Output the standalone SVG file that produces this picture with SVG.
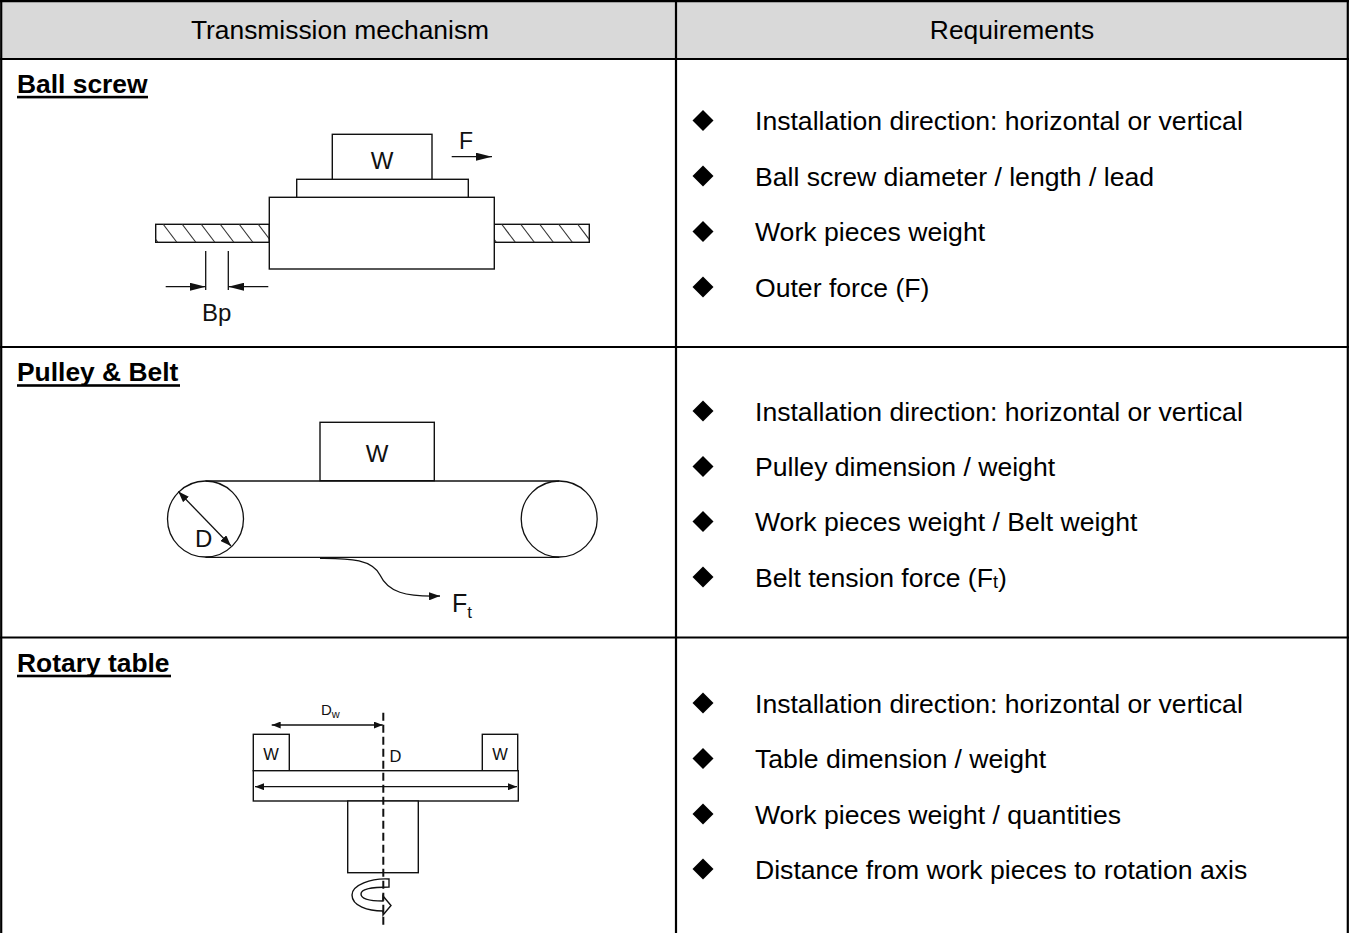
<svg xmlns="http://www.w3.org/2000/svg" width="1349" height="933" viewBox="0 0 1349 933">
<style>
.grid{stroke:#000;stroke-width:2.2;fill:none}
.hdr{font-family:"Liberation Sans",Arial,sans-serif;font-size:26.4px;fill:#000;text-anchor:middle}
.body{font-family:"Liberation Sans",Arial,sans-serif;font-size:26.6px;fill:#000}
.lbl{font-family:"Liberation Sans",Arial,sans-serif;font-size:26.4px;font-weight:bold;fill:#000}
.sk{stroke:#111;stroke-width:1.4;fill:#fff}
.ln{stroke:#111;stroke-width:1.3;fill:none}
.hl{stroke:#333;stroke-width:1.1;fill:none}
.dl{font-family:"Liberation Sans",Arial,sans-serif;fill:#111}
</style>
<defs>
<polygon id="bul" points="0,-10.5 10.5,0 0,10.5 -10.5,0" fill="#000"/>
<marker id="ahBig" viewBox="0 0 16 8" refX="16" refY="4" markerWidth="16" markerHeight="8" markerUnits="userSpaceOnUse" orient="auto-start-reverse"><path d="M0,0 L16,4 L0,8 z" fill="#111"/></marker>
<marker id="ahMid" viewBox="0 0 11 8" refX="11" refY="4" markerWidth="11" markerHeight="8" markerUnits="userSpaceOnUse" orient="auto-start-reverse"><path d="M0,0 L11,4 L0,8 z" fill="#111"/></marker>
<marker id="ahSm" viewBox="0 0 9 7" refX="9" refY="3.5" markerWidth="9" markerHeight="7" markerUnits="userSpaceOnUse" orient="auto-start-reverse"><path d="M0,0 L9,3.5 L0,7 z" fill="#111"/></marker>
<clipPath id="clipL"><rect x="155.7" y="224.3" width="113.6" height="18"/></clipPath>
<clipPath id="clipR"><rect x="494.3" y="224.3" width="95" height="18"/></clipPath>
</defs>

<rect width="1349" height="933" fill="#fff"/>

<g id="header">
<rect x="1" y="1" width="1347" height="58" fill="#d9d9d9"/>
<text class="hdr" x="340" y="39">Transmission mechanism</text>
<text class="hdr" x="1012" y="39">Requirements</text>
</g>

<g id="table-grid" class="grid">
<line x1="1.2" y1="0" x2="1.2" y2="933"/>
<line x1="1347.8" y1="0" x2="1347.8" y2="933"/>
<line x1="0" y1="1.2" x2="1349" y2="1.2"/>
<line x1="0" y1="59" x2="1349" y2="59"/>
<line x1="0" y1="347" x2="1349" y2="347"/>
<line x1="0" y1="637.5" x2="1349" y2="637.5"/>
<line x1="676" y1="0" x2="676" y2="933"/>
</g>

<g id="row-ball-screw">
<text class="lbl" x="17" y="92.7">Ball screw</text>
<rect x="17" y="95.8" width="131" height="2.6" fill="#000"/>
<g id="ballscrew-drawing">
<rect class="sk" x="155.7" y="224.3" width="113.6" height="18"/>
<rect class="sk" x="494.3" y="224.3" width="95" height="18"/>
<g clip-path="url(#clipL)" class="hl">
<line x1="144" y1="224" x2="158" y2="242.5"/>
<line x1="163" y1="224" x2="177" y2="242.5"/>
<line x1="182" y1="224" x2="196" y2="242.5"/>
<line x1="201" y1="224" x2="215" y2="242.5"/>
<line x1="220" y1="224" x2="234" y2="242.5"/>
<line x1="239" y1="224" x2="253" y2="242.5"/>
<line x1="258" y1="224" x2="272" y2="242.5"/>
</g>
<g clip-path="url(#clipR)" class="hl">
<line x1="482.5" y1="224" x2="496.5" y2="242.5"/>
<line x1="501.5" y1="224" x2="515.5" y2="242.5"/>
<line x1="520.5" y1="224" x2="534.5" y2="242.5"/>
<line x1="539.5" y1="224" x2="553.5" y2="242.5"/>
<line x1="558.5" y1="224" x2="572.5" y2="242.5"/>
<line x1="577.5" y1="224" x2="591.5" y2="242.5"/>
</g>
<rect class="sk" x="269.3" y="197.3" width="225" height="71.7"/>
<rect class="sk" x="296.7" y="179.3" width="171.6" height="18"/>
<rect class="sk" x="332.3" y="134.3" width="99.7" height="45"/>
<text class="dl" x="382" y="169" font-size="24" text-anchor="middle">W</text>
<text class="dl" x="459" y="149" font-size="23">F</text>
<line class="ln" x1="205.7" y1="251" x2="205.7" y2="290"/>
<line class="ln" x1="228.3" y1="251" x2="228.3" y2="290"/>
<text class="dl" x="202" y="321" font-size="24">Bp</text>
</g>
</g>

<g id="row-pulley-belt">
<text class="lbl" x="17" y="381">Pulley &amp; Belt</text>
<rect x="17" y="384.2" width="163" height="2.6" fill="#000"/>
<g id="pulley-drawing">
<rect class="sk" x="320" y="422.3" width="114.3" height="58.4"/>
<line class="ln" x1="205.5" y1="481" x2="559.2" y2="481"/>
<line class="ln" x1="205.5" y1="557.3" x2="559.2" y2="557.3"/>
<circle class="ln" cx="205.5" cy="519" r="38"/>
<circle class="ln" cx="559.2" cy="519" r="38"/>
<text class="dl" x="377" y="462" font-size="24" text-anchor="middle">W</text>
<text class="dl" x="195" y="547" font-size="24">D</text>
<text class="dl" x="452" y="612" font-size="25">F<tspan font-size="17" dy="6">t</tspan></text>
</g>
</g>

<g id="row-rotary-table">
<text class="lbl" x="17" y="671.5">Rotary table</text>
<rect x="17" y="674.7" width="154" height="2.6" fill="#000"/>
<g id="rotary-drawing">
<rect class="sk" x="253.3" y="734.3" width="36" height="36.4"/>
<rect class="sk" x="482.3" y="734.3" width="35.4" height="36.4"/>
<rect class="sk" x="253.3" y="770.7" width="265" height="30.3"/>
<rect class="sk" x="347.7" y="801" width="70.6" height="71.7"/>
<text class="dl" x="271" y="759.5" font-size="16.5" text-anchor="middle">W</text>
<text class="dl" x="500" y="759.5" font-size="16.5" text-anchor="middle">W</text>
<text class="dl" x="389.5" y="762" font-size="16.5">D</text>
<text class="dl" x="321" y="715" font-size="15">D<tspan font-size="11" dy="3">w</tspan></text>
<path class="sk" d="M389,879 C371,878 352,885 352,895 C352,906 368,911 383,911 L383,915 L391,905.5 L383,896 L383,901 C370,901 361,899 361,894 C361,889 373,887 389,887 Z"/>
</g>
</g>

<g id="requirements">
<use href="#bul" x="703" y="120.5"/>
<text class="body" x="755" y="130">Installation direction: horizontal or vertical</text>
<use href="#bul" x="703" y="176"/>
<text class="body" x="755" y="185.5">Ball screw diameter / length / lead</text>
<use href="#bul" x="703" y="231.5"/>
<text class="body" x="755" y="241">Work pieces weight</text>
<use href="#bul" x="703" y="287"/>
<text class="body" x="755" y="296.5">Outer force (F)</text>

<use href="#bul" x="703" y="411"/>
<text class="body" x="755" y="420.5">Installation direction: horizontal or vertical</text>
<use href="#bul" x="703" y="466.5"/>
<text class="body" x="755" y="476">Pulley dimension / weight</text>
<use href="#bul" x="703" y="521.5"/>
<text class="body" x="755" y="531">Work pieces weight / Belt weight</text>
<use href="#bul" x="703" y="577"/>
<text class="body" x="755" y="586.5">Belt tension force (F<tspan font-size="18" dy="1">t</tspan><tspan dy="-1">)</tspan></text>

<use href="#bul" x="703" y="703"/>
<text class="body" x="755" y="712.5">Installation direction: horizontal or vertical</text>
<use href="#bul" x="703" y="758.5"/>
<text class="body" x="755" y="768">Table dimension / weight</text>
<use href="#bul" x="703" y="814"/>
<text class="body" x="755" y="823.5">Work pieces weight / quantities</text>
<use href="#bul" x="703" y="869"/>
<text class="body" x="755" y="878.5">Distance from work pieces to rotation axis</text>
</g>

<g id="connectors">
<line class="ln" x1="451.7" y1="156.7" x2="492" y2="156.7" marker-end="url(#ahBig)"/>
<line class="ln" x1="165.7" y1="286.7" x2="205.7" y2="286.7" marker-end="url(#ahBig)"/>
<line class="ln" x1="268.3" y1="286.7" x2="228.3" y2="286.7" marker-end="url(#ahBig)"/>
<line class="ln" x1="178.3" y1="491.5" x2="231" y2="546" marker-start="url(#ahMid)" marker-end="url(#ahMid)"/>
<path class="ln" d="M320,558.3 C352,558 372,560 380,575 C388,592 405,597 440,596" marker-end="url(#ahMid)"/>
<line class="ln" x1="271.7" y1="725" x2="382.7" y2="725" marker-start="url(#ahSm)" marker-end="url(#ahSm)"/>
<line class="ln" x1="255" y1="786.7" x2="517" y2="786.7" marker-start="url(#ahSm)" marker-end="url(#ahSm)"/>
<line x1="383.3" y1="712.7" x2="383.3" y2="925" stroke="#111" stroke-width="2" stroke-dasharray="8,4"/>
</g>
</svg>
